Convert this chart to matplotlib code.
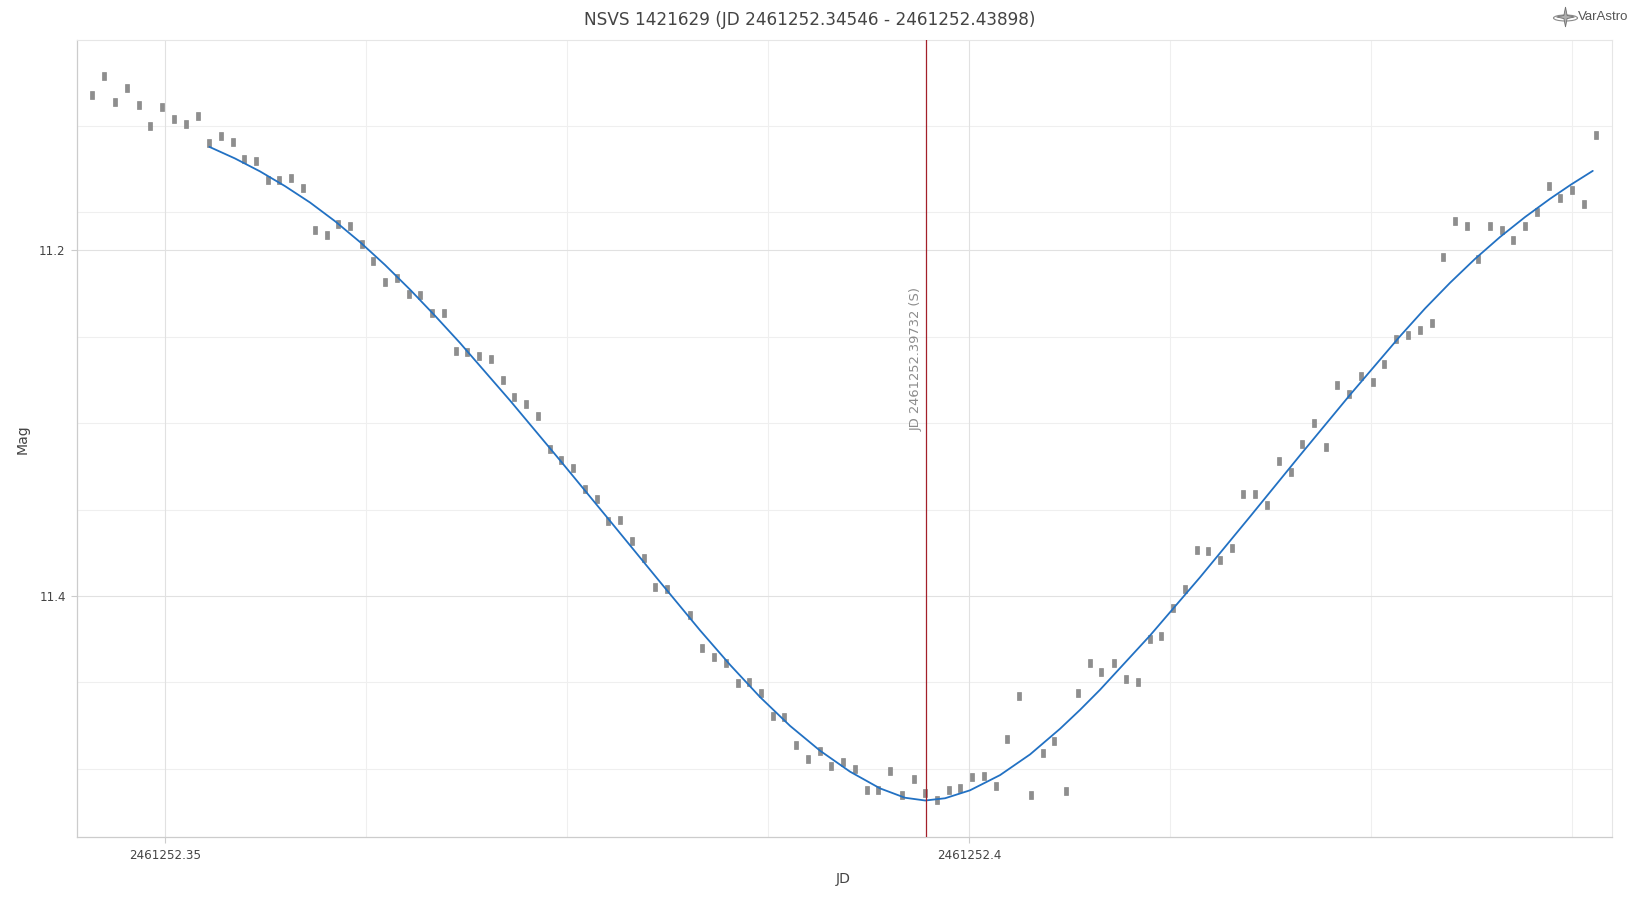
import matplotlib
matplotlib.use("Agg")
import matplotlib.pyplot as plt
from matplotlib.patches import Ellipse, Polygon

# observation times (JD - 2461252) and magnitudes
jd = [0.34546, 0.34617, 0.34689, 0.34762, 0.34835, 0.34907, 0.34981, 0.35054, 0.35127, 0.35201,
      0.35274, 0.35346, 0.35419, 0.35491, 0.35564, 0.35637, 0.35709, 0.35784, 0.35856, 0.35929,
      0.36004, 0.36076, 0.36149, 0.36221, 0.36294, 0.36368, 0.36441, 0.36514, 0.36586, 0.36661,
      0.36733, 0.36806, 0.36878, 0.36951, 0.37026, 0.37098, 0.37170, 0.37243, 0.37318, 0.37391,
      0.37463, 0.37537, 0.37610, 0.37683, 0.37755, 0.37828, 0.37901, 0.37975, 0.38047, 0.38120,
      0.38265, 0.38340, 0.38412, 0.38485, 0.38560, 0.38632, 0.38705, 0.38777, 0.38850, 0.38924,
      0.38997, 0.39070, 0.39142, 0.39217, 0.39289, 0.39362, 0.39434, 0.39509, 0.39582, 0.39654,
      0.39726, 0.39799, 0.39872, 0.39944, 0.40019, 0.40092, 0.40164, 0.40236, 0.40309, 0.40382,
      0.40457, 0.40529, 0.40601, 0.40674, 0.40748, 0.40821, 0.40897, 0.40976, 0.41049, 0.41122,
      0.41194, 0.41269, 0.41342, 0.41414, 0.41486, 0.41559, 0.41632, 0.41704, 0.41779, 0.41851,
      0.41926, 0.41999, 0.42071, 0.42144, 0.42217, 0.42289, 0.42361, 0.42436, 0.42509, 0.42581,
      0.42654, 0.42728, 0.42801, 0.42876, 0.42948, 0.43021, 0.43093, 0.43165, 0.43238, 0.43311,
      0.43383, 0.43458, 0.43531, 0.43603, 0.43676, 0.43750, 0.43823, 0.43898]
mag = [11.1102, 11.0992, 11.1142, 11.1061, 11.1161, 11.1283, 11.1171, 11.1242, 11.1271, 11.1221,
       11.1381, 11.1340, 11.1371, 11.1472, 11.1482, 11.1592, 11.1592, 11.1582, 11.1641, 11.1881,
       11.1911, 11.1850, 11.1861, 11.1962, 11.2062, 11.2182, 11.2160, 11.2251, 11.2260, 11.2361,
       11.2361, 11.2581, 11.2590, 11.2612, 11.2631, 11.2750, 11.2850, 11.2891, 11.2960, 11.3151,
       11.3215, 11.3261, 11.3381, 11.3441, 11.3566, 11.3560, 11.3680, 11.3780, 11.3950, 11.3960,
       11.4112, 11.4301, 11.4351, 11.4389, 11.4502, 11.4499, 11.4561, 11.4693, 11.4699, 11.4860,
       11.4941, 11.4899, 11.4982, 11.4960, 11.5001, 11.5121, 11.5121, 11.5011, 11.5150, 11.5061,
       11.5142, 11.5180, 11.5121, 11.5109, 11.5049, 11.5040, 11.5101, 11.4829, 11.4580, 11.5150,
       11.4910, 11.4841, 11.5130, 11.4561, 11.4389, 11.4441, 11.4389, 11.4480, 11.4499, 11.4251,
       11.4230, 11.4071, 11.3961, 11.3732, 11.3741, 11.3792, 11.3721, 11.3412, 11.3412, 11.3472,
       11.3221, 11.3281, 11.3121, 11.3001, 11.3139, 11.2781, 11.2831, 11.2727, 11.2760, 11.2660,
       11.2511, 11.2492, 11.2461, 11.2421, 11.2040, 11.1830, 11.1861, 11.2050, 11.1861, 11.1881,
       11.1940, 11.1861, 11.1780, 11.1630, 11.1699, 11.1651, 11.1730, 11.1331]

# fitted curve
fit_jd = [0.35274, 0.35433, 0.35589, 0.35744, 0.35900, 0.36055, 0.36211, 0.36366, 0.36522,
          0.36677, 0.36833, 0.37144, 0.37455, 0.37766, 0.38077, 0.38325, 0.38512, 0.38698,
          0.38885, 0.39072, 0.39258, 0.39445, 0.39600, 0.39726, 0.39849, 0.40004, 0.40191,
          0.40378, 0.40564, 0.40689, 0.40813, 0.41124, 0.41435, 0.41746, 0.42057, 0.42368,
          0.42679, 0.42834, 0.42990, 0.43145, 0.43301, 0.43456, 0.43612, 0.43742, 0.43877]
fit_mag = [11.1401, 11.1468, 11.1543, 11.1628, 11.1723, 11.1831, 11.1952, 11.2084, 11.2227,
           11.2378, 11.2536, 11.2869, 11.3215, 11.3566, 11.3919, 11.4198, 11.4398, 11.4584,
           11.4751, 11.4895, 11.5016, 11.5113, 11.5167, 11.5183, 11.5170, 11.5124, 11.5036,
           11.4916, 11.4768, 11.4658, 11.4542, 11.4228, 11.3891, 11.3540, 11.3185, 11.2835,
           11.2496, 11.2336, 11.2187, 11.2049, 11.1922, 11.1807, 11.1701, 11.1619, 11.1540]

minimum_jd = 0.39732
x_ticks = [0.35, 0.40]
x_tick_labels = ["2461252.35", "2461252.4"]
y_ticks = [11.2, 11.4]
y_tick_labels = ["11.2", "11.4"]
x_minor = [0.3625, 0.375, 0.3875, 0.4125, 0.425, 0.4375]
y_minor = [11.128, 11.178, 11.25, 11.30, 11.35, 11.45, 11.50]

title = "NSVS 1421629 (JD 2461252.34546 - 2461252.43898)"
min_label = "JD 2461252.39732 (S)"

text_col = "#444444"

fig = plt.figure(figsize=(16.31, 9.06), dpi=100, facecolor="white")
ax = fig.add_axes([0.0474, 0.0758, 0.9408, 0.88])

ax.set_xlim(0.344527, 0.43995)
ax.set_ylim(11.5396, 11.0783)

# grid
for v in x_minor:
    ax.axvline(v, color="#efefef", lw=0.8, zorder=0)
for v in y_minor:
    ax.axhline(v, color="#efefef", lw=0.8, zorder=0)
for v in x_ticks:
    ax.axvline(v, color="#e1e1e1", lw=0.8, zorder=0)
for v in y_ticks:
    ax.axhline(v, color="#e1e1e1", lw=0.8, zorder=0)

ax.set_xticks(x_ticks)
ax.set_xticklabels(x_tick_labels)
ax.set_yticks(y_ticks)
ax.set_yticklabels(y_tick_labels)
ax.tick_params(axis="both", length=4.3, width=0.8, color="#cccccc",
               labelsize=8.6, labelcolor=text_col, pad=4)

for side in ["top", "right"]:
    ax.spines[side].set_color("#e6e6e6")
    ax.spines[side].set_linewidth(0.8)
for side in ["left", "bottom"]:
    ax.spines[side].set_color("#cccccc")
    ax.spines[side].set_linewidth(0.9)

# measurements as small vertical bars
bar_marker = [(-2, -4), (2, -4), (2, 4), (-2, 4), (-2, -4)]
ax.plot(jd, mag, ls="none", marker=bar_marker, ms=5.6, color="#8e8e8e",
        mec="#7a7a7a", mew=0.4, zorder=3)

# fit
ax.plot(fit_jd, fit_mag, color="#2271c3", lw=1.3, zorder=4,
        solid_joinstyle="round", solid_capstyle="round")

# time of minimum
ax.axvline(minimum_jd, color="#a3202a", lw=0.9, zorder=5)
ax.annotate(min_label, xy=(minimum_jd, 11.2626), xytext=(-10, 0),
            textcoords="offset pixels", rotation=90, ha="center", va="center",
            fontsize=9.4, color="#8c8c8c", zorder=6)

fig.text(0.4966, 0.978, title, ha="center", va="center", fontsize=12.2, color=text_col)
fig.text(0.517, 0.0298, "JD", ha="center", va="center", fontsize=10.1, color=text_col)
fig.text(0.0141, 0.5155, "Mag", ha="center", va="center", rotation=90,
         fontsize=10.1, color=text_col)

# VarAstro logo
logo_col = "#8a8a8a"
fig.patches.append(Ellipse((1565.5 / 1631, 1 - 18 / 906), 24 / 1631, 6 / 906,
                           transform=fig.transFigure, fill=False, ec=logo_col, lw=0.8))
cx, cy = 1565.5, 17.0
star = [(cx, cy - 10), (cx + 1.6, cy - 1.6), (cx + 9, cy), (cx + 1.6, cy + 1.6),
        (cx, cy + 10), (cx - 1.6, cy + 1.6), (cx - 9, cy), (cx - 1.6, cy - 1.6)]
fig.patches.append(Polygon([(px / 1631, 1 - py / 906) for px, py in star],
                           closed=True, transform=fig.transFigure,
                           fc="#b0b0b0", ec="#707070", lw=0.6))
fig.text(1578 / 1631, 1 - 17 / 906, "VarAstro", ha="left", va="center",
         fontsize=9.5, color="#555555", family="Liberation Sans")

fig.savefig("out.png", dpi=100, facecolor="white")
